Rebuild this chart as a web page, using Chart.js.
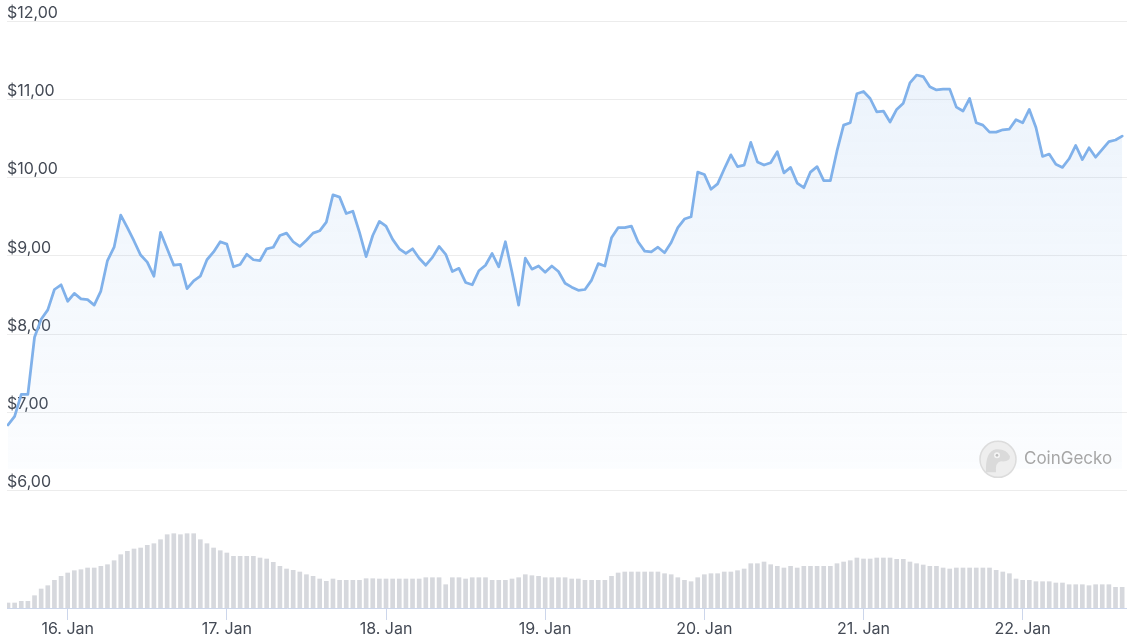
<!DOCTYPE html>
<html>
<head>
<meta charset="utf-8">
<script src="https://cdn.jsdelivr.net/npm/chart.js@4.4.1/dist/chart.umd.min.js"></script>
<style>
html,body{margin:0;padding:0;background:#fff;}
#wrap{position:relative;width:1127px;height:640px;}
</style>
</head>
<body>
<div id="wrap"><canvas id="c"></canvas></div>
<script>
// Hourly prices (USD), 15 Jan 15:00 -> 22 Jan 15:00
const prices = [
  6.84, 6.95, 7.23, 7.23, 7.96, 8.19, 8.31, 8.57, 8.63, 8.42, 8.52, 8.45, 8.44, 8.37, 8.55, 8.94, 9.11, 9.52, 9.36, 9.19,
  9.01, 8.92, 8.74, 9.30, 9.09, 8.88, 8.89, 8.58, 8.68, 8.74, 8.95, 9.05, 9.18, 9.15, 8.86, 8.89, 9.02, 8.95, 8.94, 9.09,
  9.11, 9.26, 9.29, 9.18, 9.12, 9.20, 9.29, 9.32, 9.43, 9.78, 9.75, 9.54, 9.57, 9.30, 8.99, 9.26, 9.44, 9.38, 9.21, 9.09,
  9.03, 9.09, 8.97, 8.88, 8.98, 9.12, 9.02, 8.80, 8.84, 8.66, 8.63, 8.81, 8.88, 9.03, 8.86, 9.18, 8.79, 8.37, 8.97, 8.83,
  8.87, 8.79, 8.87, 8.80, 8.65, 8.60, 8.56, 8.57, 8.69, 8.90, 8.87, 9.23, 9.36, 9.36, 9.38, 9.18, 9.06, 9.05, 9.11, 9.04,
  9.17, 9.36, 9.47, 9.50, 10.07, 10.04, 9.85, 9.92, 10.11, 10.29, 10.14, 10.16, 10.45, 10.20, 10.16, 10.19, 10.33, 10.06, 10.13, 9.93,
  9.87, 10.07, 10.14, 9.96, 9.96, 10.34, 10.67, 10.70, 11.07, 11.10, 11.01, 10.84, 10.85, 10.71, 10.87, 10.95, 11.21, 11.31, 11.29, 11.16,
  11.12, 11.13, 11.13, 10.90, 10.85, 11.01, 10.70, 10.67, 10.58, 10.58, 10.61, 10.62, 10.74, 10.70, 10.87, 10.64, 10.27, 10.30, 10.17, 10.13,
  10.24, 10.41, 10.23, 10.38, 10.26, 10.36, 10.46, 10.48, 10.53
];
// Hourly trading volume (relative units)
const volumes = [
  5, 5, 6.7, 6.7, 12.3, 19, 22.3, 27.7, 31.7, 35, 37.3, 38.3, 40, 40, 41.7, 43.3, 47.3, 53.3, 56.7, 59,
  60, 62.7, 64.3, 68.3, 73.3, 74.3, 73.3, 74.3, 74.3, 68.3, 64.3, 60, 57.3, 55, 51.7, 51.7, 51.7, 51.7, 50, 49,
  45.7, 41.7, 39, 37.7, 36, 33.3, 31.7, 29, 26.7, 29, 27.7, 27.7, 27.7, 27.7, 29.3, 29.3,
  29, 29, 29, 29, 29, 29, 29, 30.3, 30.3, 30.3, 23.3, 30.3, 30.3, 29, 30.3, 30.3, 30.3, 27.7, 27.7, 27.7,
  29, 30.3, 33.3, 32.3, 31.7, 30.3, 30.3, 30.3, 30.3, 29, 29, 27.7, 27.7, 27.7, 27.7, 31.7, 35, 36, 36, 36,
  36, 36, 36, 34.3, 33.3, 30.3, 27.7, 26.3, 30.3, 33.3, 34.3, 34.3, 36, 36, 37.3, 39,
  44.3, 44.3, 46, 43.3, 41.7, 40, 41.7, 40, 41.7, 41.7, 41.7, 41.7, 41.7,
  44.3, 46, 47.3, 50, 49, 49, 50, 50, 50, 48.7, 48.7,
  46, 44.3, 43, 41.7, 41.7, 40, 39, 40, 40, 40, 40, 40, 40,
  37.7, 36, 34.3, 29, 27.7, 27.7, 26.3, 26.3, 26.3, 25, 25, 23.3, 23.3, 23.3, 22.3, 23.3, 23.3, 23.3, 20.7, 20.7
];
const priceTicks = [6, 7, 8, 9, 10, 11, 12];
const dayTickHours = [9, 33, 57, 81, 105, 129, 153];
const dayLabels = ['16. Jan', '17. Jan', '18. Jan', '19. Jan', '20. Jan', '21. Jan', '22. Jan'];

const priceData = prices.map((v, i) => ({x: i, y: v}));
const volumeData = volumes.map((v, i) => ({x: i, y: v}));

const FONT = 'Inter, "Noto Sans", sans-serif';
const LINE = '#80b1ea';
const FILL_FLOOR = 6.28;

const watermark = {
  id: 'watermark',
  afterDatasetsDraw(chart) {
    const c = chart.ctx;
    const ca = chart.chartArea;
    const cx = ca.right - 129, cy = chart.scales.y.getPixelForValue(6.4);
    c.save();
    c.beginPath();
    c.arc(cx, cy, 18, 0, Math.PI * 2);
    c.fillStyle = '#eeeeee';
    c.fill();
    c.lineWidth = 1.5;
    c.strokeStyle = '#dcdcdc';
    c.stroke();
    c.beginPath();
    c.moveTo(cx - 12, cy + 13);
    c.quadraticCurveTo(cx - 13, cy - 8, cx - 2, cy - 10);
    c.quadraticCurveTo(cx + 8, cy - 11, cx + 12, cy - 3);
    c.quadraticCurveTo(cx + 12, cy + 3, cx + 3, cy + 2);
    c.quadraticCurveTo(cx - 3, cy + 3, cx - 2, cy + 13);
    c.closePath();
    c.fillStyle = '#dadada';
    c.fill();
    c.beginPath();
    c.arc(cx - 1, cy - 4, 3, 0, Math.PI * 2);
    c.fillStyle = '#f4f4f4';
    c.fill();
    c.beginPath();
    c.arc(cx - 1, cy - 4, 1.3, 0, Math.PI * 2);
    c.fillStyle = '#bdbdbd';
    c.fill();
    c.font = '17px ' + FONT;
    c.fillStyle = '#a6a6a6';
    c.textBaseline = 'middle';
    c.textAlign = 'left';
    c.fillText('CoinGecko', cx + 26, cy);
    c.restore();
  }
};

new Chart(document.getElementById('c'), {
  type: 'bar',
  data: {
    datasets: [
      {
        type: 'line',
        data: priceData,
        yAxisID: 'y',
        borderColor: LINE,
        borderWidth: 2.75,
        borderJoinStyle: 'round',
        borderCapStyle: 'round',
        pointRadius: 0,
        tension: 0,
        fill: {target: {value: FILL_FLOOR}},
        backgroundColor: (ctx) => {
          const chart = ctx.chart;
          const ca = chart.chartArea;
          if (!ca) return 'rgba(130,178,234,0.1)';
          const yb = chart.scales.y.getPixelForValue(FILL_FLOOR);
          const g = chart.ctx.createLinearGradient(0, ca.top, 0, yb);
          g.addColorStop(0, 'rgba(130,178,234,0.17)');
          g.addColorStop(1, 'rgba(130,178,234,0.03)');
          return g;
        },
        order: 1
      },
      {
        type: 'bar',
        data: volumeData,
        yAxisID: 'yv',
        backgroundColor: '#d6d8dd',
        barThickness: 4,
        borderWidth: 0,
        order: 2
      }
    ]
  },
  options: {
    responsive: true,
    maintainAspectRatio: false,
    animation: false,
    layout: {padding: {top: 20, left: 7, right: 0, bottom: 0}},
    plugins: {legend: {display: false}, tooltip: {enabled: false}},
    scales: {
      x: {
        type: 'linear',
        offset: false,
        min: -0.151,
        max: 168.73,
        afterBuildTicks: (axis) => { axis.ticks = dayTickHours.map(v => ({value: v})); },
        afterFit: (axis) => { axis.height = 32; },
        ticks: {
          autoSkip: false,
          maxRotation: 0,
          padding: 0,
          color: '#444a55',
          font: {family: FONT, size: 16},
          callback: (v) => dayLabels[dayTickHours.indexOf(v)]
        },
        grid: {offset: false, drawOnChartArea: false, drawTicks: true, tickLength: 12, color: '#ccd6eb', lineWidth: 1},
        border: {display: true, color: '#ccd6eb', width: 1}
      },
      y: {
        type: 'linear',
        position: 'left',
        min: 4.5013,
        max: 12.0128,
        afterBuildTicks: (axis) => { axis.ticks = priceTicks.map(v => ({value: v})); },
        ticks: {
          mirror: true,
          padding: 0,
          labelOffset: -8,
          color: '#444a55',
          font: {family: FONT, size: 16},
          callback: (v) => '$' + v.toFixed(2).replace('.', ',')
        },
        grid: {color: '#ececec', lineWidth: 1, drawTicks: false},
        border: {display: false}
      },
      yv: {
        type: 'linear',
        display: false,
        min: 0,
        max: 588
      }
    }
  },
  plugins: [watermark]
});
</script>
</body>
</html>
